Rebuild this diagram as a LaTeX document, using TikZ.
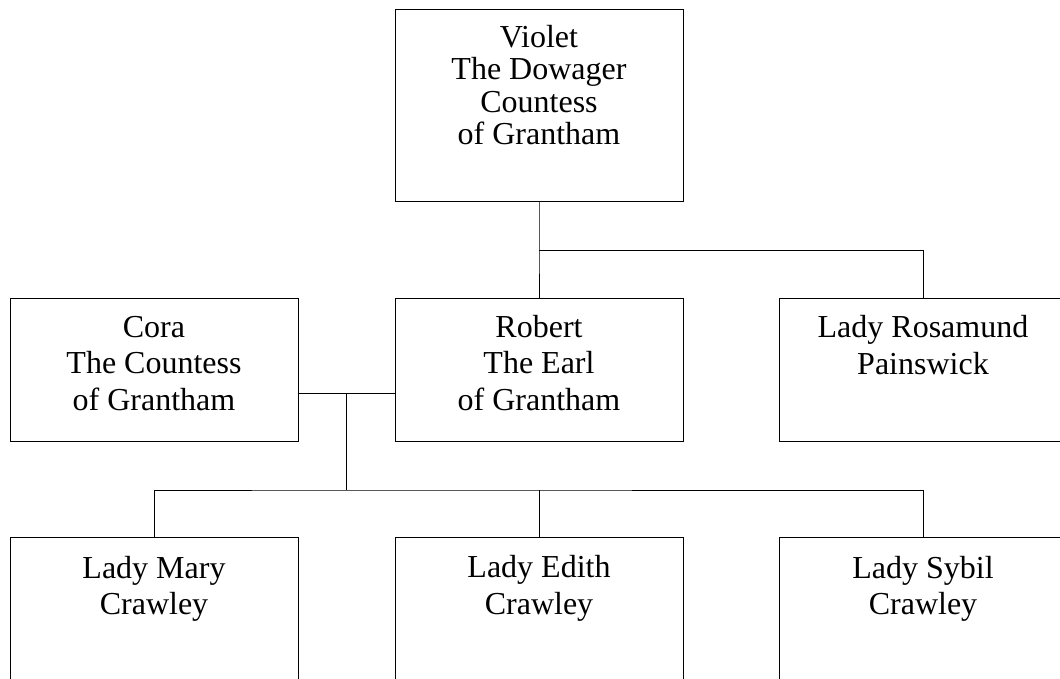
\documentclass[tikz,border=0pt]{standalone}
\usepackage{fontspec}
\setmainfont{Liberation Serif}
\newcommand{\fl}{\rule{0pt}{24pt}}
\begin{document}
\begin{tikzpicture}[x=1pt,y=-1pt,
  box/.style={draw=black, line width=1pt, minimum width=288pt, minimum height=143.5pt, inner sep=0pt, outer sep=0pt},
  lbl/.style={anchor=north, inner sep=0pt, align=center, font=\fontsize{32}{36.5}\selectfont},
  conn/.style={draw=black, line width=1pt}]
\useasboundingbox (0,0) rectangle (1060,679);
\clip (0,0) rectangle (1060,679);
% boxes
\node[box, minimum height=192pt] (violet) at (539,105.5) {};
\node[box] (cora) at (154,369.75) {};
\node[box] (robert) at (539,369.75) {};
\node[box] (rosamund) at (923,369.75) {};
\node[box] (mary) at (154,609.25) {};
\node[box] (edith) at (539,609.25) {};
\node[box] (sybil) at (923,609.25) {};
% labels
\node[lbl, font=\fontsize{32}{32.5}\selectfont] (violet-t) at (539,23.3) {\fl Violet\\The Dowager\\Countess\\of Grantham};
\node[lbl] (cora-t) at (154,313) {\fl Cora\\The Countess\\of Grantham};
\node[lbl] (robert-t) at (539,313) {\fl Robert\\The Earl\\of Grantham};
\node[lbl] (rosamund-t) at (923,313.3) {\fl Lady Rosamund\\Painswick};
\node[lbl] (mary-t) at (154,554) {\fl Lady Mary\\Crawley};
\node[lbl] (edith-t) at (539,553.5) {\fl Lady Edith\\Crawley};
\node[lbl] (sybil-t) at (923,553.8) {\fl Lady Sybil\\Crawley};
% connectors
\coordinate (vj) at (539,250);
\draw[conn] (violet.south) -- (vj) -- (robert.north);
\draw[conn] (vj) -| (rosamund.north);
\coordinate (cj) at (346.7,393.3);
\coordinate (kj) at (346.7,490);
\draw[conn] (cora.east |- cj) -- (robert.west |- cj);
\draw[conn] (cj) -- (kj);
\draw[conn] (mary.north) |- (kj) -| (sybil.north);
\draw[conn] (edith.north) -- (edith.north |- kj);
\end{tikzpicture}
\end{document}
